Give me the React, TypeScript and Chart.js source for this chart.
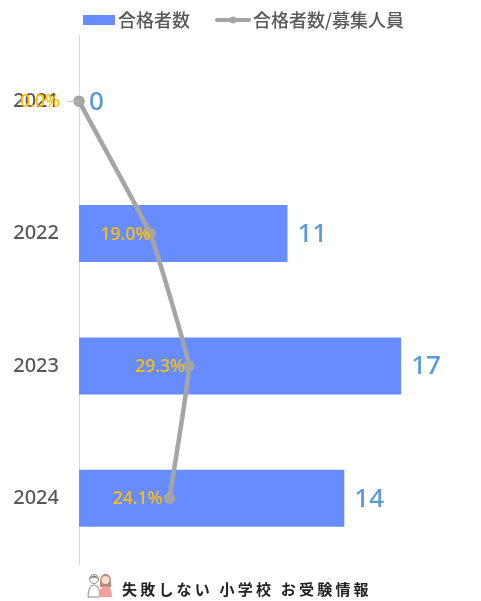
import React, { useEffect, useRef } from 'react';
import { Chart, registerables } from 'chart.js';

Chart.register(...registerables);

const years = ['2021', '2022', '2023', '2024'];
const passCounts = [0, 11, 17, 14];
const passRates = [0, 19.0, 29.3, 24.1];

// gap between each rate label and its point, the source nudged these by hand
const rateLabelGaps = [19, 0, 4, 7];

const JP_FONT = '"Noto Sans CJK JP", "Noto Sans", sans-serif';
const LATIN_FONT = '"Noto Sans", "Open Sans", sans-serif';
const BAR_COLOR = '#668CFF';
const LINE_COLOR = '#A5A5A5';
const TEXT_COLOR = '#595959';

const chartLabels = {
  id: 'chartLabels',
  afterDatasetsDraw(chart: Chart) {
    const { ctx } = chart;
    const barMeta = chart.getDatasetMeta(0);
    const lineMeta = chart.getDatasetMeta(1);
    ctx.save();
    ctx.textBaseline = 'middle';

    // leader line of the zero point
    const first = lineMeta.data[0];
    ctx.strokeStyle = '#BFBFBF';
    ctx.lineWidth = 1;
    ctx.beginPath();
    ctx.moveTo(first.x - 12, first.y);
    ctx.lineTo(first.x, first.y);
    ctx.stroke();

    passCounts.forEach((value, i) => {
      const bar = barMeta.data[i];
      ctx.font = `500 26px ${LATIN_FONT}`;
      ctx.fillStyle = '#5B9BD5';
      ctx.textAlign = 'left';
      ctx.fillText(String(value), bar.x + 10, bar.y + 1);
    });

    passRates.forEach((value, i) => {
      const point = lineMeta.data[i];
      ctx.font = `500 17.5px ${LATIN_FONT}`;
      ctx.fillStyle = '#FFC000';
      ctx.textAlign = 'right';
      ctx.fillText(`${value.toFixed(1)}%`, point.x - rateLabelGaps[i], point.y + 1);
    });
    ctx.restore();
  },
  afterDraw(chart: Chart) {
    // legend, drawn here because the line key has a dot in the middle
    const { ctx } = chart;
    const y = 20;
    ctx.save();
    ctx.font = `500 18px ${JP_FONT}`;
    ctx.textAlign = 'left';
    ctx.textBaseline = 'middle';

    ctx.fillStyle = BAR_COLOR;
    ctx.fillRect(83, y - 5, 32, 10);
    ctx.fillStyle = TEXT_COLOR;
    ctx.fillText(chart.data.datasets[0].label as string, 118, y);

    ctx.strokeStyle = LINE_COLOR;
    ctx.lineWidth = 4;
    ctx.lineCap = 'round';
    ctx.beginPath();
    ctx.moveTo(217, y);
    ctx.lineTo(249, y);
    ctx.stroke();
    ctx.fillStyle = LINE_COLOR;
    ctx.beginPath();
    ctx.arc(233, y, 3.5, 0, Math.PI * 2);
    ctx.fill();
    ctx.fillStyle = TEXT_COLOR;
    ctx.fillText(chart.data.datasets[1].label as string, 253, y);
    ctx.restore();
  },
};

const App: React.FC = () => {
  const chartRef = useRef<HTMLCanvasElement>(null);

  useEffect(() => {
    if (!chartRef.current) return;
    document.body.style.margin = '0';

    const chart = new Chart(chartRef.current, {
      type: 'bar',
      data: {
        labels: years,
        datasets: [
          {
            label: '合格者数',
            data: passCounts,
            backgroundColor: BAR_COLOR,
            categoryPercentage: 1,
            barPercentage: 0.43,
            order: 2,
            xAxisID: 'x',
          },
          {
            type: 'line',
            label: '合格者数/募集人員',
            data: passRates,
            borderColor: LINE_COLOR,
            backgroundColor: LINE_COLOR,
            borderWidth: 4.5,
            pointRadius: 3.5,
            tension: 0.08,
            clip: false,
            order: 1,
            xAxisID: 'x1',
          },
        ] as any,
      },
      options: {
        indexAxis: 'y',
        animation: false,
        responsive: false,
        layout: { padding: { top: 35, bottom: 36.5, right: 23, left: 0 } },
        plugins: {
          legend: { display: false },
          tooltip: { enabled: false },
        },
        scales: {
          x: { display: false, min: 0, max: 20 },
          x1: { display: false, axis: 'x', min: 0, max: 101 } as any,
          y: {
            afterFit: (scale: any) => {
              scale.width = 79;
            },
            grid: { display: false, drawTicks: false },
            border: { color: '#D9D9D9', width: 1 },
            ticks: {
              color: TEXT_COLOR,
              padding: 20,
              font: { family: LATIN_FONT, size: 20, weight: 500 },
            },
          },
        },
      },
      plugins: [chartLabels],
    });

    return () => {
      chart.destroy();
    };
  }, []);

  return (
    <div style={{ position: 'relative', width: 481, height: 601, background: '#fff', overflow: 'hidden' }}>
      <canvas ref={chartRef} width={481} height={601} style={{ display: 'block' }} />
      <svg width={26} height={26} viewBox="0 0 26 26" style={{ position: 'absolute', left: 87, top: 573 }}>
        <circle cx={7} cy={6} r={4.5} fill="#fff" stroke="#8a8a8a" />
        <path d="M2 6 Q7 -1 12 6 Q7 3 2 6Z" fill="#777" />
        <path d="M1 24 Q1 12 7 12 Q13 12 13 24Z" fill="#fff" stroke="#8a8a8a" />
        <path d="M13 9 Q13 1 18.5 1 Q24 1 24 9 L24 14 L13 14Z" fill="#b58a78" />
        <circle cx={18.5} cy={7} r={4} fill="#fbdcd0" />
        <path d="M12 24 Q12 13 18.5 13 Q25 13 25 24Z" fill="#f4a0a0" />
      </svg>
      <div
        style={{
          position: 'absolute',
          left: 122,
          top: 578,
          fontFamily: JP_FONT,
          fontWeight: 700,
          fontSize: 15,
          lineHeight: '21px',
          letterSpacing: 3.2,
          color: '#222',
          whiteSpace: 'nowrap',
        }}
      >
        失敗しない 小学校 お受験情報
      </div>
    </div>
  );
};

export default App;
